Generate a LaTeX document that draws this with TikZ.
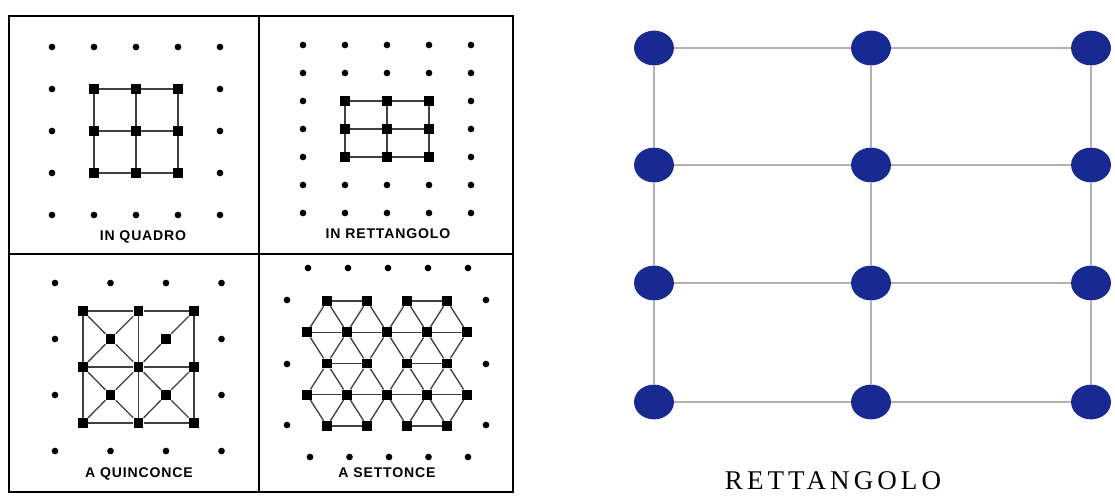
\documentclass[tikz,border=0pt]{standalone}
\usepackage{fontspec}
\usetikzlibrary{shapes.geometric}
\newfontfamily\tagfont{Liberation Sans}[LetterSpace=6]
\newfontfamily\titlefont{Liberation Serif}[LetterSpace=15]
\definecolor{dotblue}{RGB}{24,42,145}
\begin{document}
\begin{tikzpicture}[x=0.02cm, y=-0.02cm,
    pt/.style={circle, fill=black, inner sep=0pt, minimum size=3.8pt},
    sqr/.style={rectangle, fill=black, inner sep=0pt, minimum size=5.6pt},
    link/.style={black!75, line width=0.75pt},
    blob/.style={ellipse, fill=dotblue, inner sep=0pt, minimum width=22.7pt, minimum height=19.8pt},
    blink/.style={black!30, line width=1pt},
    panel/.style={black, line width=1.4pt},
    tag/.style={font=\tagfont\bfseries\fontsize{8}{9}\selectfont}]
    \useasboundingbox (0,0) rectangle (1115,501);

    % Frames
    \draw[panel] (9,16) rectangle (513,492);
    \draw[panel] (259,16) -- (259,492);
    \draw[panel] (9,254) -- (513,254);

    % In quadro
    \foreach \i in {0,...,4} {
        \node[pt] (q-\i-0) at ({52+42*\i},47) {};
        \node[pt] (q-\i-4) at ({52+42*\i},215) {};
    }
    \foreach \j in {1,2,3} {
        \node[pt] (q-0-\j) at (52,{47+42*\j}) {};
        \node[pt] (q-4-\j) at (220,{47+42*\j}) {};
    }
    \foreach \i in {1,2,3}
        \foreach \j in {1,2,3}
            \node[sqr] (q-\i-\j) at ({52+42*\i},{47+42*\j}) {};
    \foreach \a in {1,2,3} {
        \draw[link] (q-1-\a) -- (q-2-\a) -- (q-3-\a);
        \draw[link] (q-\a-1) -- (q-\a-2) -- (q-\a-3);
    }
    \node[tag] (quadro) at (143,237) {IN QUADRO};

    % In rettangolo
    \foreach \j in {0,1,5,6}
        \foreach \i in {0,...,4}
            \node[pt] (r-\i-\j) at ({303+42*\i},{45+28*\j}) {};
    \foreach \j in {2,3,4} {
        \node[pt] (r-0-\j) at (303,{45+28*\j}) {};
        \node[pt] (r-4-\j) at (471,{45+28*\j}) {};
    }
    \foreach \i in {1,2,3}
        \foreach \j in {2,3,4}
            \node[sqr] (r-\i-\j) at ({303+42*\i},{45+28*\j}) {};
    \foreach \j in {2,3,4}
        \draw[link] (r-1-\j) -- (r-2-\j) -- (r-3-\j);
    \foreach \i in {1,2,3}
        \draw[link] (r-\i-2) -- (r-\i-3) -- (r-\i-4);
    \node[tag] (rettangolo) at (388,234) {IN RETTANGOLO};

    % A quinconce
    \foreach \i in {0,...,3} {
        \node[pt] (p-\i-0) at ({55+55.5*\i},283) {};
        \node[pt] (p-\i-3) at ({55+55.5*\i},451) {};
    }
    \foreach \j in {1,2} {
        \node[pt] (p-0-\j) at (55,{283+56*\j}) {};
        \node[pt] (p-3-\j) at (221.5,{283+56*\j}) {};
    }
    \foreach \i in {0,1,2}
        \foreach \j in {0,1,2}
            \node[sqr] (k-\i-\j) at ({83+55.5*\i},{311+56*\j}) {};
    \foreach \i in {0,1}
        \foreach \j in {0,1}
            \node[sqr] (c-\i-\j) at ({110.5+55.5*\i},{339+56*\j}) {};
    \foreach \a in {0,1,2} {
        \draw[link] (k-0-\a) -- (k-1-\a) -- (k-2-\a);
        \draw[link] (k-\a-0) -- (k-\a-1) -- (k-\a-2);
    }
    \draw[link] (k-0-0) -- (c-0-0) -- (k-1-1);
    \draw[link] (k-1-0) -- (c-0-0) -- (k-0-1);
    \draw[link] (k-1-1) -- (c-1-0) -- (k-2-0);
    \draw[link] (k-0-1) -- (c-0-1) -- (k-1-2);
    \draw[link] (k-1-1) -- (c-0-1) -- (k-0-2);
    \draw[link] (k-1-1) -- (c-1-1) -- (k-2-2);
    \draw[link] (k-2-1) -- (c-1-1) -- (k-1-2);
    \node[tag] (quinconce) at (139,474) {A QUINCONCE};

    % A settonce
    \foreach \i in {0,...,4} {
        \node[pt] (t-\i-0) at ({308+40*\i},268) {};
        \node[pt] (t-\i-1) at ({310+39.5*\i},457) {};
    }
    \foreach \y [count=\n] in {300,364,425} {
        \node[pt] (l-\n) at (287,\y) {};
        \node[pt] (e-\n) at (486,\y) {};
    }
    \foreach \r in {0,2,4}
        \foreach \i in {0,...,3}
            \node[sqr] (s-\r-\i) at ({327+40*\i},{301+31.25*\r}) {};
    \foreach \r in {1,3} {
        \foreach \i in {0,...,4}
            \node[sqr] (s-\r-\i) at ({307+40*\i},{301+31.25*\r}) {};
        \draw[link] (s-\r-0) -- (s-\r-1) -- (s-\r-2) -- (s-\r-3) -- (s-\r-4);
    }
    \foreach \r in {0,2,4} {
        \draw[link] (s-\r-0) -- (s-\r-1);
        \draw[link] (s-\r-2) -- (s-\r-3);
    }
    \foreach \r/\o in {0/1, 2/1, 2/3, 4/3}
        \foreach \i in {0,...,3} {
            \pgfmathtruncatemacro\k{\i+1}
            \draw[link] (s-\o-\i) -- (s-\r-\i) -- (s-\o-\k);
        }
    \node[tag] (settonce) at (387,473) {A SETTONCE};

    % Rettangolo
    \foreach \x [count=\i from 0] in {654,871,1091}
        \foreach \y [count=\j from 0] in {48,165,283,402}
            \node[blob] (b-\i-\j) at (\x,\y) {};
    \foreach \j in {0,...,3}
        \draw[blink] (b-0-\j) -- (b-1-\j) -- (b-2-\j);
    \foreach \i in {0,1,2}
        \draw[blink] (b-\i-0) -- (b-\i-1) -- (b-\i-2) -- (b-\i-3);
    \node[font=\titlefont\fontsize{15.4}{17}\selectfont] (title) at (833,481) {RETTANGOLO};
\end{tikzpicture}
\end{document}
